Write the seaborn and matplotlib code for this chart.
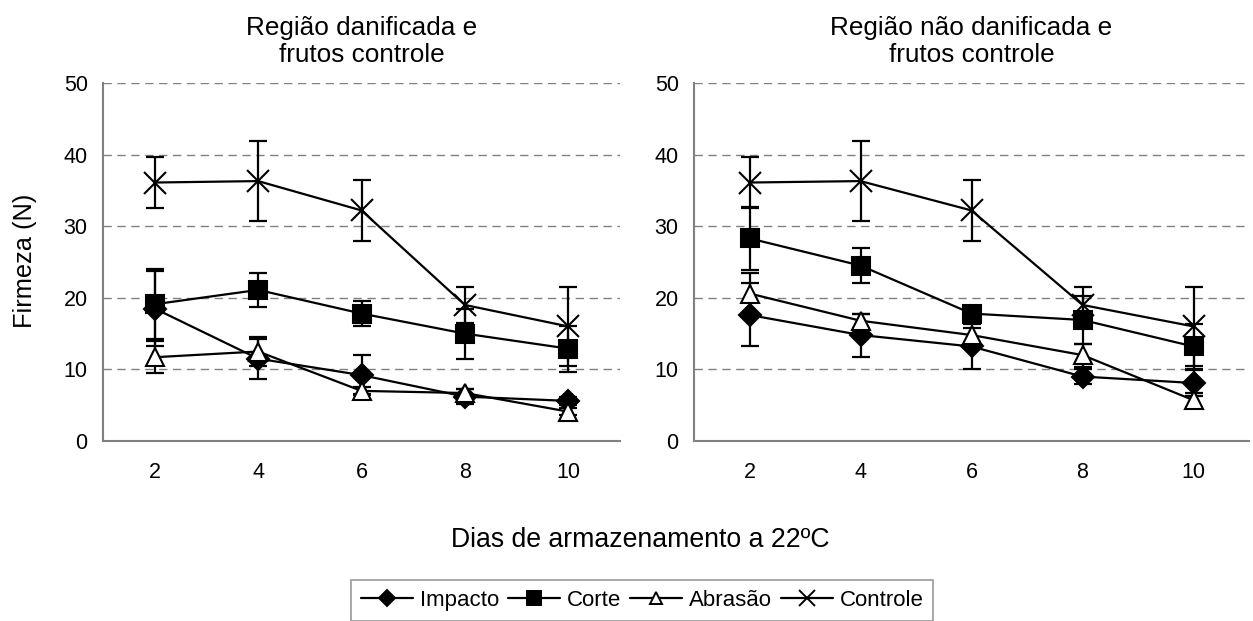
import matplotlib
matplotlib.use("Agg")
import matplotlib.pyplot as plt
import seaborn as sns
import pandas as pd
import numpy as np
from matplotlib.lines import Line2D

sns.set_theme(style="white")
plt.rcParams['font.family'] = ['Liberation Sans', 'DejaVu Sans']
plt.rcParams['text.color'] = 'black'
plt.rcParams['xtick.labelcolor'] = 'black'
plt.rcParams['ytick.labelcolor'] = 'black'

days = ["2", "4", "6", "8", "10"]
series = ["Impacto", "Corte", "Abrasão", "Controle"]

# Left panel: damaged region + control fruits
left_impacto = [18.5, 11.5, 9.2, 6.2, 5.6]
left_impacto_err = [5.3, 2.8, 2.8, 1.0, 0.6]
left_corte = [19.1, 21.1, 17.8, 15.0, 12.9]
left_corte_err = [4.9, 2.4, 1.8, 3.5, 3.2]
left_abrasao = [11.7, 12.5, 7.0, 6.7, 4.1]
left_abrasao_err = [2.2, 2.0, 0.5, 0.5, 0.5]
left_controle = [36.1, 36.3, 32.2, 19.0, 16.0]
left_controle_err = [3.6, 5.6, 4.2, 2.5, 5.5]

# Right panel: non-damaged region + control fruits
right_impacto = [17.6, 14.8, 13.2, 9.0, 8.1]
right_impacto_err = [4.4, 3.0, 3.1, 1.0, 1.8]
right_corte = [28.3, 24.5, 17.8, 16.9, 13.2]
right_corte_err = [4.4, 2.4, 0.5, 3.3, 3.2]
right_abrasao = [20.6, 16.8, 14.8, 12.0, 5.7]
right_abrasao_err = [2.9, 1.0, 1.0, 1.6, 1.0]
right_controle = [36.1, 36.3, 32.2, 19.0, 16.0]
right_controle_err = [3.6, 5.6, 4.2, 2.5, 5.5]

titles = ["Região danificada e\nfrutos controle", "Região não danificada e\nfrutos controle"]
ylabel = "Firmeza (N)"
xlabel = "Dias de armazenamento a 22ºC"
yticks = [0, 10, 20, 30, 40, 50]

panels = [
    ([left_impacto, left_corte, left_abrasao, left_controle],
     [left_impacto_err, left_corte_err, left_abrasao_err, left_controle_err]),
    ([right_impacto, right_corte, right_abrasao, right_controle],
     [right_impacto_err, right_corte_err, right_abrasao_err, right_controle_err]),
]

markers = {"Impacto": "D", "Corte": "s", "Abrasão": "^", "Controle": "x"}
msizes = {"Impacto": 11, "Corte": 12.5, "Abrasão": 12.5, "Controle": 16}
leg_msizes = {"Impacto": 8, "Corte": 9.5, "Abrasão": 9, "Controle": 11}
faces = {"Impacto": "black", "Corte": "black", "Abrasão": "white", "Controle": "black"}

W, H = 1253, 621
fig = plt.figure(figsize=(W / 100, H / 100), dpi=100)
ax_rects = [
    [103 / W, 1 - 441 / H, 517 / W, 358 / H],
    [694 / W, 1 - 441 / H, 555 / W, 358 / H],
]
gray = "#808080"

for k, (vals, errs) in enumerate(panels):
    ax = fig.add_axes(ax_rects[k])
    rows = []
    for s, v, e in zip(series, vals, errs):
        for i, (d, y, ee) in enumerate(zip(days, v, e)):
            rows.append({"pos": i, "day": d, "series": s, "firmeza": y, "err": ee})
    df = pd.DataFrame(rows)

    for y in yticks[1:]:
        ax.axhline(y, color=gray, lw=1.0, ls=(0, (6, 4)), zorder=0)

    for s in series:
        sub = df[df.series == s]
        ax.errorbar(sub["pos"], sub["firmeza"], yerr=sub["err"], fmt="none",
                    ecolor="black", elinewidth=1.6, capsize=6.5, capthick=1.6, zorder=2)

    for s in series:
        sub = df[df.series == s]
        sns.lineplot(data=sub, x="pos", y="firmeza", color="black", lw=1.6,
                     marker=markers[s], markersize=msizes[s],
                     markerfacecolor=faces[s], markeredgecolor="black",
                     markeredgewidth=1.5, ax=ax, legend=False, zorder=3)

    ax.set_xlim(-0.5, 4.5)
    ax.set_ylim(0, 50)
    ax.set_yticks(yticks)
    ax.set_yticklabels([str(t) for t in yticks], fontsize=15.5)
    ax.set_xticks(np.arange(-0.5, 5, 1.0))
    ax.set_xticklabels([])
    ax.set_xticks(np.arange(len(days)), minor=True)
    ax.set_xticklabels(days, minor=True, fontsize=15.5)
    ax.tick_params(axis="x", which="major", length=6, width=1.2, color=gray, direction="out")
    ax.tick_params(axis="x", which="minor", length=0, pad=15)
    ax.tick_params(axis="y", length=5, width=1.2, color=gray, direction="out", pad=6)
    for sp in ["top", "right"]:
        ax.spines[sp].set_visible(False)
    for sp in ["left", "bottom"]:
        ax.spines[sp].set_color(gray)
        ax.spines[sp].set_linewidth(1.5)
    ax.set_xlabel("")
    ax.set_ylabel("")
    ax.set_title(titles[k], fontsize=18.8, pad=15.3, linespacing=1.16, color="black")

fig.text(25 / W, 1 - 261 / H, ylabel, rotation=90, ha="center", va="center", fontsize=18.3)
fig.text(640 / W, 1 - 540 / H, xlabel, ha="center", va="center", fontsize=19.2)

leg_handles = [Line2D([], [], color="black", lw=1.6, marker=markers[s],
                      markersize=leg_msizes[s], markerfacecolor=faces[s],
                      markeredgecolor="black", markeredgewidth=1.4) for s in series]
leg = fig.legend(leg_handles, series, loc="upper center", ncol=4,
                 bbox_to_anchor=(642 / W, 1 - 580 / H), fontsize=16,
                 frameon=True, fancybox=False, edgecolor=gray, borderpad=0.45,
                 handlelength=2.35, handletextpad=0.3, columnspacing=0.4,
                 borderaxespad=0)
leg.get_frame().set_linewidth(1.2)

fig.savefig("out.png", dpi=100)
